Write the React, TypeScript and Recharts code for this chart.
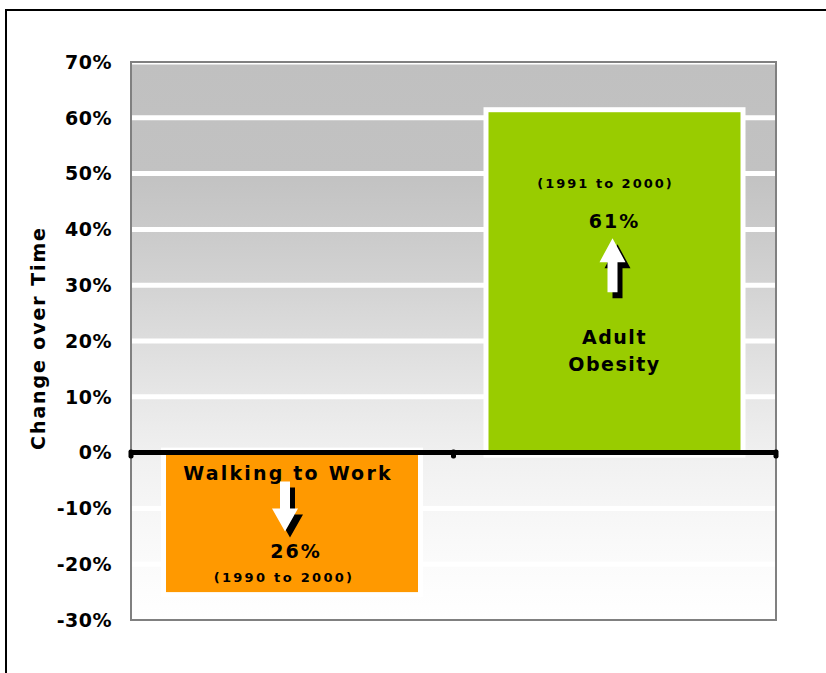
import React from 'react';
import { BarChart, Bar, XAxis, YAxis, CartesianGrid, ReferenceLine, ReferenceArea } from 'recharts';

const categories = ['Walking to Work', 'Adult Obesity'];
const changeValues = [-25, 61];
const barColors = ['#FF9900', '#99CC00'];
const yTicks = [-30, -20, -10, 0, 10, 20, 30, 40, 50, 60, 70];
const percentLabels = ['26%', '61%'];
const periodLabels = ['(1990 to 2000)', '(1991 to 2000)'];

const data = categories.map((name, i) => ({ name, value: changeValues[i] }));

const FONT = '"DejaVu Sans", Verdana, sans-serif';

const Arrow = ({ cx, tipY, baseY, endY }: any) => {
  const hw = 13;
  const sw = 5;
  const pts = [
    [cx, tipY],
    [cx + hw, baseY],
    [cx + sw, baseY],
    [cx + sw, endY],
    [cx - sw, endY],
    [cx - sw, baseY],
    [cx - hw, baseY],
  ];
  const s = pts.map((p) => p.join(',')).join(' ');
  const sh = pts.map((p) => [p[0] + 5, p[1] + 6].join(',')).join(' ');
  return (
    <g>
      <polygon points={sh} fill="#000" />
      <polygon points={s} fill="#fff" />
    </g>
  );
};

const BarShape = (props: any) => {
  const { x, y, width, height, index } = props;
  const top = Math.min(y, y + height);
  const h = Math.abs(height);
  const cx = x + width / 2;
  const fill = barColors[index];
  const txt = { fontFamily: FONT, fontWeight: 'bold', fill: '#000', textAnchor: 'middle' } as any;
  if (index === 1) {
    return (
      <g>
        <rect x={x - 5} y={top - 5} width={width + 10} height={h + 10} fill="#fff" />
        <rect x={x} y={top} width={width} height={h} fill={fill} />
        <text {...txt} x={cx - 9} y={top + 76} fontSize={13} letterSpacing={2}>{periodLabels[1]}</text>
        <text {...txt} x={cx} y={top + 116} fontSize={19} letterSpacing={2}>{percentLabels[1]}</text>
        <Arrow cx={cx - 2} tipY={top + 126} baseY={top + 150} endY={top + 180} />
        <text {...txt} x={cx} y={top + 232} fontSize={19} letterSpacing={1.5}>Adult</text>
        <text {...txt} x={cx} y={top + 259} fontSize={19} letterSpacing={1.5}>Obesity</text>
      </g>
    );
  }
  return (
    <g>
      <rect x={x - 5} y={top - 5} width={width + 10} height={h + 10} fill="#fff" />
      <rect x={x} y={top} width={width} height={h} fill={fill} />
      <text {...txt} x={cx - 4} y={top + 27} fontSize={19} letterSpacing={2.2}>{categories[0]}</text>
      <Arrow cx={cx - 7} tipY={top + 79} baseY={top + 56} endY={top + 29} />
      <text {...txt} x={cx + 4} y={top + 105} fontSize={19} letterSpacing={2}>{percentLabels[0]}</text>
      <text {...txt} x={cx - 8} y={top + 129} fontSize={13} letterSpacing={2.3}>{periodLabels[0]}</text>
    </g>
  );
};

const YTick = (props: any) => {
  const { x, y, payload } = props;
  return (
    <text x={x - 19} y={y} dy="0.36em" textAnchor="end" fontFamily={FONT} fontWeight="bold" fontSize={19} letterSpacing={0.5} fill="#000">
      {payload.value}%
    </text>
  );
};

const ZeroLine = (props: any) => {
  const { x1, y1, x2, y2 } = props;
  const mid = (x1 + x2) / 2;
  return (
    <g>
      <line x1={x1} y1={y1} x2={x2} y2={y2} stroke="#000" strokeWidth={5} />
      {[x1, mid, x2].map((tx, i) => (
        <rect key={i} x={tx - 2.5} y={y1 - 3} width={5} height={9} rx={2} fill="#000" />
      ))}
    </g>
  );
};

const AxisTitle = (props: any) => {
  const vb = props.viewBox || { x: 0, y: 62, width: 131, height: 558 };
  const cx = vb.x + 45;
  const cy = vb.y + vb.height / 2 - 3;
  return (
    <text x={cx} y={cy} transform={`rotate(-90, ${cx}, ${cy})`} textAnchor="middle" fontFamily={FONT} fontWeight="bold" fontSize={19} letterSpacing={1.9} fill="#000">
      Change over Time
    </text>
  );
};

export default function App() {
  return (
    <div style={{ position: 'absolute', left: 0, top: 0, width: 826, height: 673, overflow: 'hidden', background: '#fff' }}>
      <div style={{ position: 'absolute', left: 5, top: 9, width: 830, height: 700, borderLeft: '2px solid #000', borderTop: '2px solid #000' }} />
      <div style={{ position: 'absolute', left: 0, top: 0 }}>
        <BarChart width={826} height={673} data={data} margin={{ top: 62, right: 50, bottom: 53, left: 0 }} barSize={252}>
          <defs>
            <linearGradient id="bgGrad" x1="0" y1="0" x2="0" y2="1">
              <stop offset="0" stopColor="#c0c0c0" />
              <stop offset="0.2" stopColor="#c2c2c2" />
              <stop offset="0.3" stopColor="#cacaca" />
              <stop offset="0.4" stopColor="#d3d3d3" />
              <stop offset="0.5" stopColor="#dddddd" />
              <stop offset="0.6" stopColor="#e7e7e7" />
              <stop offset="0.7" stopColor="#f0f0f0" />
              <stop offset="0.8" stopColor="#f6f6f6" />
              <stop offset="0.9" stopColor="#fbfbfb" />
              <stop offset="1" stopColor="#ffffff" />
            </linearGradient>
          </defs>
          <CartesianGrid vertical={false} stroke="#ffffff" strokeWidth={5} fill="url(#bgGrad)" fillOpacity={1} />
          <XAxis dataKey="name" hide />
          <YAxis
            width={131}
            domain={[-30, 70]}
            ticks={yTicks}
            interval={0}
            axisLine={false}
            tickLine={false}
            tickSize={0}
            tickMargin={0}
            tick={<YTick />}
            label={<AxisTitle />}
          />
          <ReferenceArea y1={-30} y2={70} fill="none" stroke="#808080" strokeWidth={2} ifOverflow="visible" />
          <Bar dataKey="value" isAnimationActive={false} shape={<BarShape />} />
          <ReferenceLine y={0} shape={<ZeroLine />} ifOverflow="visible" />
        </BarChart>
      </div>
    </div>
  );
}
